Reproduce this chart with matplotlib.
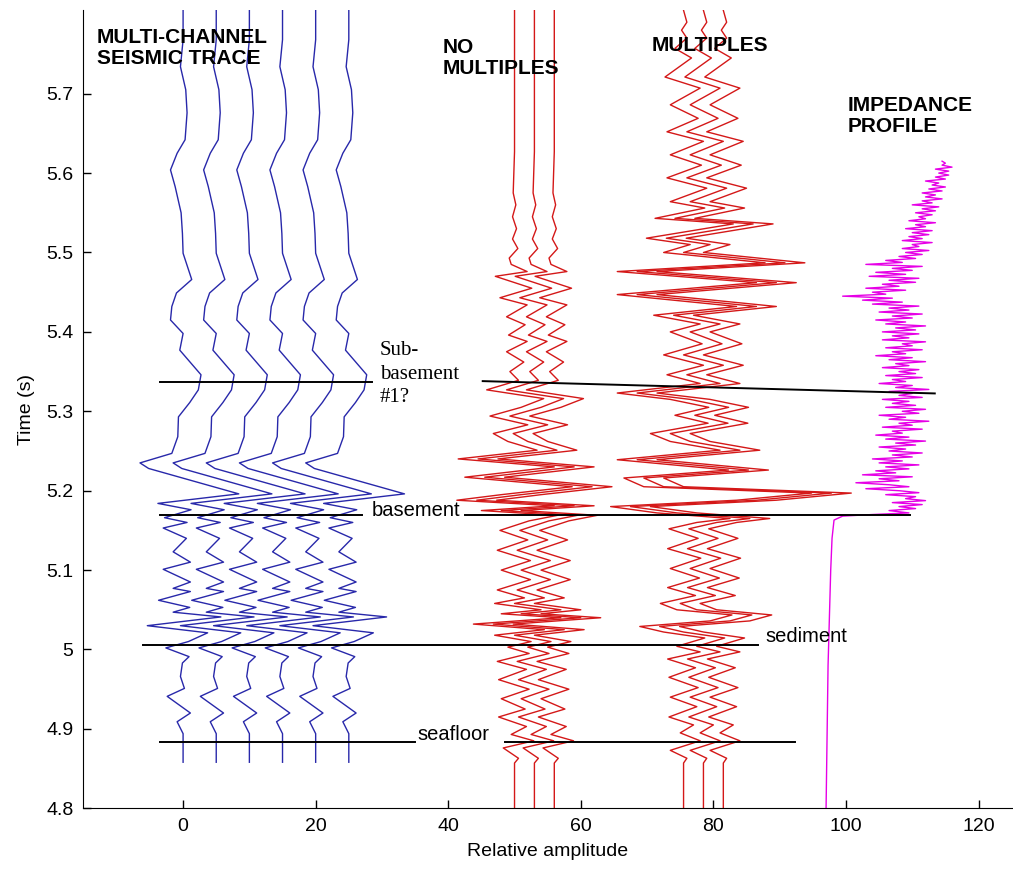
import numpy as np
import matplotlib
matplotlib.use("Agg")
import matplotlib.pyplot as plt

plt.rcParams['font.family'] = ['Liberation Sans', 'DejaVu Sans']

# multi-channel gather: one wavelet shape, repeated at each channel offset
mc_offsets = [0, 5, 10, 15, 20, 25]
mc_time = [4.858, 4.894, 4.909, 4.920, 4.941, 4.951, 4.966, 4.983, 4.991, 5.002,
           5.010, 5.021, 5.030, 5.041, 5.047, 5.053, 5.062, 5.073, 5.077, 5.085,
           5.101, 5.110, 5.123, 5.140, 5.153, 5.160, 5.166, 5.176, 5.184, 5.196,
           5.228, 5.235, 5.247, 5.268, 5.293, 5.311, 5.327, 5.346, 5.377, 5.398,
           5.415, 5.432, 5.449, 5.466, 5.499, 5.524, 5.550, 5.583, 5.604, 5.625,
           5.642, 5.676, 5.705, 5.734, 5.768, 5.805]
mc_amp = [0.0, 0.0, -0.9, 1.1, -2.4, 0.2, -0.4, -0.1, 0.9, -2.6,
          0.8, 3.7, -5.4, 5.7, -1.5, 1.0, -3.7, 1.1, -1.5, 1.1,
          -3.0, 1.1, -1.5, 0.5, -3.0, 0.6, -2.8, 1.2, -3.8, 8.4,
          -5.2, -6.5, -1.7, -0.8, -0.7, 1.0, 2.3, 2.7, -0.5, 0.0,
          -1.9, -1.7, -1.0, 1.3, 0.0, -0.1, -0.3, -1.2, -1.9, -0.9,
          0.3, 0.6, 0.4, -0.4, 0.0, 0.0]

# synthetic without multiples
nm_offsets = [50, 53, 56]
nm_time = [4.800, 4.857, 4.863, 4.876, 4.885, 4.893, 4.903, 4.915, 4.925, 4.938,
           4.950, 4.962, 4.975, 4.985, 4.995, 5.003, 5.010, 5.018, 5.025, 5.032,
           5.040, 5.045, 5.050, 5.058, 5.065, 5.075, 5.088, 5.100, 5.112, 5.125,
           5.138, 5.150, 5.162, 5.169, 5.175, 5.181, 5.188, 5.195, 5.205, 5.217,
           5.230, 5.240, 5.251, 5.262, 5.272, 5.283, 5.294, 5.305, 5.316, 5.327,
           5.339, 5.350, 5.362, 5.375, 5.388, 5.396, 5.409, 5.419, 5.434, 5.443,
           5.455, 5.470, 5.476, 5.485, 5.493, 5.505, 5.517, 5.530, 5.545, 5.560,
           5.575, 5.627, 5.805]
nm_amp = [0.0, 0.0, 0.6, -1.7, 2.9, -0.5, 1.8, -2.4, 1.6, -2.0,
          2.2, -2.4, 1.8, -2.6, 2.2, -1.0, 2.5, -3.0, 4.5, -6.2,
          7.0, -2.0, 4.0, -3.0, 1.5, -2.6, 2.4, -2.0, 2.4, -2.6,
          2.0, -2.2, 2.2, 6.5, -5.0, 6.0, -8.7, -2.0, 8.7, -7.5,
          6.0, -8.5, 3.4, -1.0, -3.2, 2.0, -3.7, 1.0, 4.4, -4.2,
          0.6, -0.7, 1.4, -1.2, 1.9, -0.9, 1.6, -1.2, 1.9, -2.2,
          2.6, -2.9, 1.9, -0.5, -0.8, 0.5, -0.3, 0.3, -0.3, 0.2,
          -0.2, 0.0, 0.0]

# synthetic with multiples
mu_offsets = [75.5, 78.5, 81.5]
mu_time = [4.800, 4.857, 4.863, 4.873, 4.885, 4.895, 4.905, 4.915, 4.928, 4.940,
           4.952, 4.965, 4.977, 4.988, 4.997, 5.004, 5.0145, 5.022, 5.029, 5.036,
           5.0435, 5.050, 5.058, 5.068, 5.078, 5.090, 5.102, 5.115, 5.127, 5.140,
           5.152, 5.160, 5.165, 5.172, 5.180, 5.188, 5.197, 5.205, 5.216, 5.226,
           5.239, 5.251, 5.262, 5.272, 5.285, 5.295, 5.305, 5.315, 5.323, 5.335,
           5.346, 5.358, 5.371, 5.385, 5.400, 5.410, 5.421, 5.432, 5.447, 5.462,
           5.476, 5.487, 5.500, 5.510, 5.518, 5.536, 5.543, 5.556, 5.564, 5.581,
           5.594, 5.610, 5.623, 5.640, 5.652, 5.669, 5.686, 5.707, 5.721, 5.745,
           5.757, 5.770, 5.780, 5.790, 5.805]
mu_amp = [0.0, 0.0, 0.5, -2.0, 2.5, -0.5, 1.5, -2.2, 2.0, -2.0,
          2.2, -2.2, 1.8, -2.4, 2.5, -1.0, 3.2, -3.0, -6.6, 4.0,
          7.3, -1.0, -3.5, 1.8, -2.4, 2.4, -2.0, 2.6, -2.4, 2.2,
          -2.2, 2.0, 7.0, -4.0, -11.0, 8.0, 19.3, -6.0, -9.0, 6.8,
          -10.0, 5.5, -2.0, -5.0, 3.7, -1.3, 3.8, -2.0, -10.0, 2.5,
          -2.5, 3.0, -3.0, 2.8, -2.0, 2.5, -4.5, 8.0, -10.0, 11.0,
          -10.0, 12.3, -3.0, 1.0, -5.6, 7.5, -4.3, 3.2, -2.0, 3.5,
          -2.5, 2.7, -2.0, 3.0, -2.5, 2.2, -2.0, 2.5, -2.8, 1.2,
          -1.3, 0.5, -0.3, 0.5, 0.0]

# acoustic impedance log: smooth sediment section, then 2.5 ms samples in basement
imp_sed_time = [4.800, 4.860, 4.920, 4.980, 5.040, 5.100, 5.140, 5.163, 5.168, 5.170, 5.172]
imp_sed_value = [97.0, 97.1, 97.2, 97.3, 97.5, 97.7, 97.9, 98.2, 99.5, 104.0, 109.5]
imp_base_start = 5.175
imp_dt = 0.0025
imp_base_value = [
    106.5, 110.5, 108.0, 111.5, 107.0, 112.0, 109.0, 110.5, 106.0, 111.0,
    108.0, 103.0, 109.5, 106.5, 101.5, 108.0, 105.0, 110.0, 102.5, 107.5,
    104.5, 109.5, 106.0, 111.0, 105.0, 108.5, 104.0, 110.0, 107.0, 111.5,
    106.5, 109.0, 105.0, 110.5, 107.5, 112.0, 106.0, 109.5, 104.5, 108.5,
    107.0, 111.5, 105.5, 110.0, 108.0, 112.5, 106.5, 109.0, 105.0, 111.0,
    108.5, 112.0, 106.0, 110.5, 107.0, 109.5, 105.5, 111.5, 108.0, 110.0,
    106.5, 112.5, 107.5, 110.0, 105.0, 109.0, 107.0, 111.5, 106.0, 110.5,
    108.0, 111.0, 105.5, 109.5, 107.5, 112.0, 106.5, 110.0, 104.5, 109.0,
    107.0, 111.5, 106.0, 110.0, 108.5, 112.0, 105.5, 109.5, 107.0, 111.0,
    105.5, 110.5, 107.5, 112.0, 106.0, 109.0, 104.5, 110.0, 107.0, 111.5,
    105.0, 109.5, 106.5, 111.0, 104.0, 108.5, 102.5, 107.0, 99.5, 106.0,
    104.0, 109.0, 103.0, 108.0, 105.5, 110.5, 106.5, 111.0, 103.5, 109.0,
    104.5, 110.0, 107.0, 111.5, 103.0, 108.5, 106.0, 110.5, 108.0, 111.5,
    109.0, 112.5, 108.5, 111.0, 110.0, 113.0, 108.5, 111.5, 109.5, 112.5,
    110.0, 113.0, 109.0, 112.0, 110.5, 113.5, 109.5, 112.0, 111.0, 113.0,
    110.5, 113.5, 111.5, 114.0, 110.0, 113.0, 111.5, 114.5, 112.0, 113.5,
    111.5, 114.5, 112.5, 115.0, 113.0, 114.0, 112.0, 115.0, 113.5, 115.5,
    114.0, 115.5, 113.5, 116.0, 114.5, 115.0, 114.5]

# interpreted horizons: (x0, t0, x1, t1) segments
seafloor_segs = [(-3.5, 4.883, 35.0, 4.883), (48.6, 4.883, 92.3, 4.883)]
sediment_segs = [(-6.0, 5.006, 86.7, 5.006)]
basement_segs = [(-3.5, 5.170, 27.0, 5.170), (42.5, 5.170, 109.6, 5.170)]
subbasement_segs = [(-3.5, 5.337, 28.5, 5.337), (45.2, 5.338, 113.4, 5.3225)]

fig = plt.figure(figsize=(10.13, 8.73), dpi=100)
ax = fig.add_axes([83 / 1013, 64.7 / 873, 930 / 1013, 798.3 / 873])

blue = '#2828aa'
red = '#d41818'
magenta = '#e600e6'

for off in mc_offsets:
    ax.plot(off + np.array(mc_amp), mc_time, color=blue, lw=1.0)
for off in nm_offsets:
    ax.plot(off + np.array(nm_amp), nm_time, color=red, lw=1.0)
for off in mu_offsets:
    ax.plot(off + np.array(mu_amp), mu_time, color=red, lw=1.0)

imp_base_time = imp_base_start + imp_dt * np.arange(len(imp_base_value))
imp_time = np.concatenate([imp_sed_time, imp_base_time])
imp_value = np.concatenate([imp_sed_value, imp_base_value])
ax.plot(imp_value, imp_time, color=magenta, lw=1.0)

for segs in (seafloor_segs, sediment_segs, basement_segs, subbasement_segs):
    for x0, t0, x1, t1 in segs:
        ax.plot([x0, x1], [t0, t1], color='black', lw=1.4)

# labels on the plot
title_kw = dict(fontsize=15, fontweight='bold', va='top', ha='left', linespacing=1.15)
ax.text(-13.0, 5.783, 'MULTI-CHANNEL\nSEISMIC TRACE', **title_kw)
ax.text(39.2, 5.770, 'NO\nMULTIPLES', **title_kw)
ax.text(70.7, 5.773, 'MULTIPLES', **title_kw)
ax.text(100.3, 5.697, 'IMPEDANCE\nPROFILE', **title_kw)

ax.text(29.7, 5.388, 'Sub-\nbasement\n#1?', family=['Liberation Serif', 'DejaVu Serif'],
        fontsize=15, va='top', ha='left', linespacing=1.3)
ax.text(28.5, 5.1745, 'basement', fontsize=14.5, va='center', ha='left')
ax.text(87.8, 5.016, 'sediment', fontsize=14.5, va='center', ha='left')
ax.text(35.4, 4.8925, 'seafloor', fontsize=14.5, va='center', ha='left')

ax.set_xlim(-15.1, 125.2)
ax.set_ylim(4.8, 5.8054)
ax.set_xticks(np.arange(0, 121, 20))
yt = np.round(np.arange(4.8, 5.75, 0.1), 1)
ax.set_yticks(yt)
ax.set_yticklabels(['%g' % v for v in yt])
ax.tick_params(direction='in', length=6, width=1, labelsize=14, pad=7)

ax.spines['top'].set_visible(False)
ax.spines['right'].set_visible(False)
ax.set_xlabel('Relative amplitude', fontsize=14, labelpad=6)
ax.set_ylabel('Time (s)', fontsize=14, labelpad=8)

fig.savefig('out.png', dpi=100)
